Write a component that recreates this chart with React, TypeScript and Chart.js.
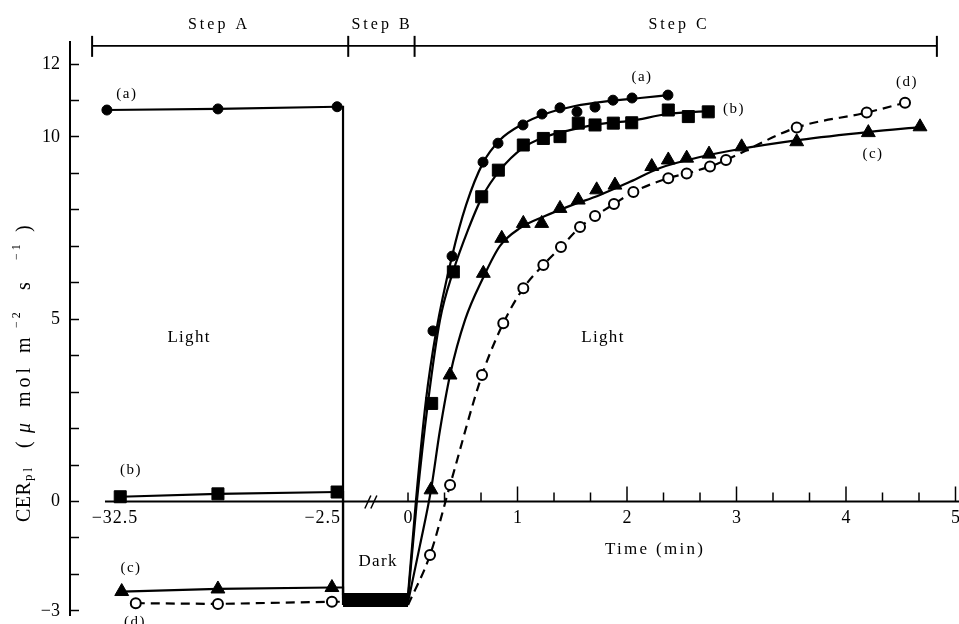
import React, { useEffect, useRef } from 'react';
import { Chart, registerables } from 'chart.js';

Chart.register(...registerables);

const FONT = '"Liberation Serif", "DejaVu Serif", "Times New Roman", serif';

// ---------- time axis with a break (Step A compressed, Step B dark compressed) ----------
const STEP_A_END = -2.5;
const STEP_A_SCALE = 0.0676; // axis units per minute during Step A
const DARK_SCALE = 0.2374; // axis units per minute during Step B
function toAxis(t: number): number {
  if (t >= 0) return t;
  if (t >= STEP_A_END) return t * DARK_SCALE;
  return STEP_A_END * DARK_SCALE + (t - STEP_A_END) * STEP_A_SCALE;
}
const X_MIN = -3.087;
const X_MAX = 5.032;
const Y_MIN = -3.114;
const Y_MAX = 12.606;

// ---------- ticks ----------
const yTickValues = [-3, -2, -1, 0, 1, 2, 3, 4, 5, 6, 7, 8, 9, 10, 11, 12];
const yLabelValues = [12, 10, 5, 0, -3];
const yLabels = ['12', '10', '5', '0', '\u22123'];
const xTickTimes = [0, 1, 2, 3, 4, 5];
const xTickLabels = ['0', '1', '2', '3', '4', '5'];
const xStepALabelTimes = [-32.5, -2.5];
const xStepALabels = ['\u221232.5', '\u22122.5'];
const xMinorTickTimes = [0, 1 / 3, 2 / 3, 4 / 3, 5 / 3, 7 / 3, 8 / 3, 10 / 3, 11 / 3, 13 / 3, 14 / 3];
const xMajorTickTimes = [1, 2, 3, 4, 5];

// ---------- series (a) filled circles ----------
const aATime = [-34.4, -19.4, -3.3];
const aAVal = [10.74, 10.77, 10.83];
const aDark = -2.57;
const aCTime = [0.228, 0.402, 0.685, 0.822, 1.05, 1.224, 1.388, 1.543, 1.708, 1.872, 2.046, 2.374];
const aCVal = [4.68, 6.73, 9.31, 9.83, 10.33, 10.63, 10.8, 10.69, 10.82, 11.01, 11.07, 11.15];
const aFitTime = [0, 0.073, 0.164, 0.256, 0.402, 0.53, 0.685, 0.84, 1.05, 1.251, 1.525, 1.845, 2.119, 2.374];
const aFitVal = [-2.57, 0.04, 2.78, 4.65, 6.73, 8.13, 9.29, 9.92, 10.36, 10.63, 10.85, 10.99, 11.07, 11.15];

// ---------- series (b) filled squares ----------
const bATime = [-32.6, -19.4, -3.3];
const bAVal = [0.13, 0.21, 0.26];
const bDark = -2.66;
const bCTime = [0.216, 0.414, 0.673, 0.825, 1.053, 1.236, 1.388, 1.555, 1.708, 1.875, 2.043, 2.377, 2.56, 2.742];
const bCVal = [2.69, 6.3, 8.36, 9.09, 9.78, 9.96, 10.01, 10.38, 10.33, 10.38, 10.39, 10.74, 10.56, 10.69];
const bFitTime = [0, 0.082, 0.183, 0.292, 0.411, 0.548, 0.676, 0.84, 1.05, 1.251, 1.479, 1.753, 2.027, 2.374, 2.74];
const bFitVal = [-2.66, 0.04, 2.73, 4.98, 6.3, 7.45, 8.35, 9.09, 9.7, 10.0, 10.19, 10.36, 10.44, 10.63, 10.71];

// ---------- series (c) filled triangles ----------
const cATime = [-32.4, -19.4, -4.0];
const cAVal = [-2.47, -2.4, -2.36];
const cDark = -2.76;
const cCTime = [0.21, 0.384, 0.688, 0.856, 1.053, 1.221, 1.388, 1.555, 1.723, 1.89, 2.226, 2.377, 2.545, 2.749, 3.047, 3.55, 4.204, 4.676];
const cCVal = [0.32, 3.47, 6.26, 7.22, 7.63, 7.63, 8.04, 8.27, 8.55, 8.68, 9.19, 9.37, 9.42, 9.53, 9.73, 9.87, 10.12, 10.28];
const cFitTime = [0, 0.11, 0.21, 0.292, 0.384, 0.521, 0.685, 0.84, 1.023, 1.251, 1.479, 1.753, 2.027, 2.301, 2.667, 3.032, 3.58, 4.219, 4.676];
const cFitVal = [-2.76, -1.19, 0.32, 1.96, 3.47, 4.98, 6.13, 7.01, 7.5, 7.83, 8.11, 8.41, 8.77, 9.15, 9.45, 9.67, 9.92, 10.14, 10.27];

// ---------- series (d) open circles, dashed ----------
const dATime = [-30.5, -19.4, -4.0];
const dAVal = [-2.79, -2.81, -2.75];
const dDark = -2.84;
const dCTime = [0.201, 0.384, 0.676, 0.87, 1.053, 1.236, 1.397, 1.571, 1.708, 1.881, 2.058, 2.377, 2.545, 2.758, 2.904, 3.55, 4.189, 4.539];
const dCVal = [-1.47, 0.45, 3.47, 4.89, 5.85, 6.49, 6.98, 7.53, 7.83, 8.16, 8.49, 8.87, 9.0, 9.19, 9.37, 10.26, 10.67, 10.94];

// ---------- annotations (time, value) ----------
const bracketTimes = [-36.4, -2.3, 0.06, 4.83];
const bracketVal = 12.5;
const stepLabels = ['Step A', 'Step B', 'Step C'];
const stepLabelTimes = [-19.26, -1.0, 2.475];
const stepLabelVal = 13.07;
const seriesLabels = ['(a)', '(b)', '(c)', '(d)', '(a)', '(b)', '(c)', '(d)'];
const seriesLabelTimes = [-31.7, -31.15, -31.15, -30.6, 2.137, 2.977, 4.247, 4.557];
const seriesLabelVals = [11.18, 0.86, -1.82, -3.31, 11.65, 10.77, 9.53, 11.51];
const phaseLabels = ['Light', 'Dark', 'Light'];
const phaseLabelTimes = [-23.3, -1.15, 1.781];
const phaseLabelVals = [4.51, -1.66, 4.51];
const xTitle = 'Time (min)';
const xTitleTime = 2.256;
const xTitleVal = -1.33;
const axisStartTime = -34.66;
const breakMarkTime = -1.43;

function pts(ts: number[], vs: number[]) {
  return ts.map((t, i) => ({ x: toAxis(t), y: vs[i] }));
}
function preLine(ts: number[], vs: number[], dark: number) {
  const last = vs[vs.length - 1];
  return [
    ...pts(ts, vs),
    { x: toAxis(STEP_A_END), y: last },
    { x: toAxis(STEP_A_END), y: dark },
    { x: toAxis(0), y: dark },
  ];
}

function txt(ctx: any, s: string, x: number, y: number, size: number, spacing: number, align = 'center', baseline = 'middle', italic = false) {
  ctx.save();
  ctx.font = `${italic ? 'italic ' : ''}${size}px ${FONT}`;
  ctx.letterSpacing = `${spacing}px`;
  ctx.fillStyle = '#000';
  ctx.textAlign = align;
  ctx.textBaseline = baseline;
  ctx.fillText(s, x, y);
  ctx.restore();
}

const overlay = {
  id: 'overlay',
  afterDraw(chart: any) {
    const { ctx } = chart;
    const xs = chart.scales.x;
    const ys = chart.scales.y;
    const X = (t: number) => xs.getPixelForValue(toAxis(t));
    const Y = (v: number) => ys.getPixelForValue(v);
    const y0 = Y(0);
    ctx.save();
    ctx.strokeStyle = '#000';
    ctx.lineCap = 'butt';

    // x axis line
    ctx.lineWidth = 2;
    ctx.beginPath();
    ctx.moveTo(X(axisStartTime), y0);
    ctx.lineTo(xs.right, y0);
    ctx.stroke();

    // break marks //
    const bx = X(breakMarkTime);
    ctx.lineWidth = 1.5;
    [-3, 3].forEach((o) => {
      ctx.beginPath();
      ctx.moveTo(bx + o - 3, y0 + 7);
      ctx.lineTo(bx + o + 3, y0 - 6);
      ctx.stroke();
    });

    // x tick marks (pointing up)
    ctx.lineWidth = 1.5;
    xMinorTickTimes.forEach((t) => {
      ctx.beginPath();
      ctx.moveTo(X(t), y0);
      ctx.lineTo(X(t), y0 - 9);
      ctx.stroke();
    });
    xMajorTickTimes.forEach((t) => {
      ctx.beginPath();
      ctx.moveTo(X(t), y0);
      ctx.lineTo(X(t), y0 - 15);
      ctx.stroke();
    });

    // Step A x labels
    txt(ctx, xStepALabels[0], X(xStepALabelTimes[0]) - 6, y0 + 17, 18, 1, 'center');
    txt(ctx, xStepALabels[1], X(xStepALabelTimes[1]) - 2, y0 + 17, 18, 1, 'right');

    // bracket
    const yb = Y(bracketVal);
    ctx.lineWidth = 1.6;
    ctx.beginPath();
    ctx.moveTo(X(bracketTimes[0]), yb);
    ctx.lineTo(X(bracketTimes[bracketTimes.length - 1]), yb);
    ctx.stroke();
    ctx.lineWidth = 2;
    bracketTimes.forEach((t) => {
      ctx.beginPath();
      ctx.moveTo(X(t), yb - 10);
      ctx.lineTo(X(t), yb + 11);
      ctx.stroke();
    });
    stepLabels.forEach((s, i) => txt(ctx, s, X(stepLabelTimes[i]), Y(stepLabelVal), 16, 3));

    // series / phase labels
    seriesLabels.forEach((s, i) => txt(ctx, s, X(seriesLabelTimes[i]), Y(seriesLabelVals[i]), 15, 1.5));
    phaseLabels.forEach((s, i) => txt(ctx, s, X(phaseLabelTimes[i]), Y(phaseLabelVals[i]), 17, 1.3));
    txt(ctx, xTitle, X(xTitleTime), Y(xTitleVal), 17, 2.3);

    // y axis title (rotated)
    ctx.save();
    ctx.translate(xs.left - 40, Y(3.55));
    ctx.rotate(-Math.PI / 2);
    const tokens: [string, number, number, number, boolean, number][] = [
      // text, start offset, size, baseline shift, italic, spacing
      ['CER', -150, 20, 0, false, 0.5],
      ['pl', -109, 13, 2, false, 3],
      ['(', -76, 20, 0, false, 0],
      ['\u03bc', -61, 20, 0, true, 0],
      ['mol', -35, 20, 0, false, 4],
      ['m', 19, 20, 0, false, 0],
      ['\u22122', 44, 12, -10, false, 3],
      ['s', 82, 20, 0, false, 0],
      ['\u22121', 112, 12, -10, false, 3],
      [')', 140, 20, 0, false, 0],
    ];
    tokens.forEach(([s, off, size, dy, it, sp]) => txt(ctx, s, off, dy, size, sp, 'left', 'alphabetic', it));
    ctx.restore();

    ctx.restore();
  },
};

function markerSet(data: any[], style: string, radius: number, fill: string, bw: number) {
  return {
    data,
    showLine: false,
    pointStyle: style,
    pointRadius: radius,
    pointBackgroundColor: fill,
    pointBorderColor: '#000',
    pointBorderWidth: bw,
    order: 0,
  };
}
const darkStart = toAxis(STEP_A_END);
function lineSet(data: any[], smooth: boolean, dashedBeforeDark = false, dashed = false) {
  return {
    data,
    showLine: true,
    pointRadius: 0,
    borderColor: '#000',
    borderWidth: 2.2,
    tension: 0,
    cubicInterpolationMode: smooth ? 'monotone' : 'default',
    borderDash: dashed ? [9, 6] : [],
    segment: smooth
      ? undefined
      : {
          borderDash: (c: any) => (dashedBeforeDark && c.p0.parsed.x < darkStart ? [9, 6] : []),
          borderWidth: (c: any) => (c.p0.parsed.x >= darkStart - 1e-9 && c.p1.parsed.x > c.p0.parsed.x + 1e-9 ? 4.2 : 2.2),
        },
    order: 1,
  };
}

export default function App() {
  const ref = useRef<HTMLCanvasElement | null>(null);
  useEffect(() => {
    if (!ref.current) return;
    const datasets: any[] = [
      markerSet([...pts(aATime, aAVal), ...pts(aCTime, aCVal)], 'circle', 5, '#000', 1),
      markerSet([...pts(bATime, bAVal), ...pts(bCTime, bCVal)], 'rect', 8.5, '#000', 1),
      markerSet([...pts(cATime, cAVal), ...pts(cCTime, cCVal)], 'triangle', 8, '#000', 1),
      markerSet([...pts(dATime, dAVal), ...pts(dCTime, dCVal)], 'circle', 5, '#fff', 2),
      lineSet(preLine(aATime, aAVal, aDark), false),
      lineSet(preLine(bATime, bAVal, bDark), false),
      lineSet(preLine(cATime, cAVal, cDark), false),
      lineSet(preLine(dATime, dAVal, dDark), false, true),
      lineSet(pts(aFitTime, aFitVal), true),
      lineSet(pts(bFitTime, bFitVal), true),
      lineSet(pts(cFitTime, cFitVal), true),
      lineSet([{ x: toAxis(0), y: dDark }, ...pts(dCTime, dCVal)], true, false, true),
    ];
    const chart = new Chart(ref.current, {
      type: 'scatter',
      data: { datasets },
      options: {
        animation: false,
        responsive: false,
        devicePixelRatio: 1,
        layout: { autoPadding: false, padding: { left: 0, right: 0, top: 42, bottom: 9 } },
        plugins: { legend: { display: false }, tooltip: { enabled: false }, title: { display: false } },
        scales: {
          x: {
            type: 'linear',
            min: X_MIN,
            max: X_MAX,
            position: { y: 0 },
            afterBuildTicks: (s: any) => {
              s.ticks = xTickTimes.map((t) => ({ value: toAxis(t) }));
            },
            afterFit: (s: any) => {
              s.paddingLeft = 0;
              s.paddingRight = 0;
            },
            grid: { display: false, drawTicks: false, drawOnChartArea: false },
            border: { display: false },
            ticks: {
              autoSkip: false,
              maxRotation: 0,
              padding: 6,
              color: '#000',
              font: { family: FONT, size: 18 },
              callback: (_v: any, i: number) => xTickLabels[i],
            },
          },
          y: {
            type: 'linear',
            min: Y_MIN,
            max: Y_MAX,
            afterBuildTicks: (s: any) => {
              s.ticks = yTickValues.map((v) => ({ value: v }));
            },
            afterFit: (s: any) => {
              s.width = 70;
              s.paddingTop = 0;
              s.paddingBottom = 0;
            },
            grid: { drawOnChartArea: false, drawTicks: true, tickLength: -9, tickColor: '#000', tickWidth: 1.5 },
            border: { display: true, color: '#000', width: 2 },
            ticks: {
              autoSkip: false,
              padding: 19,
              color: '#000',
              font: { family: FONT, size: 18 },
              callback: (v: any) => {
                const k = yLabelValues.indexOf(Math.round(Number(v)));
                return k >= 0 ? yLabels[k] : '';
              },
            },
          },
        },
      },
      plugins: [overlay],
    });
    return () => chart.destroy();
  }, []);
  return (
    <div style={{ position: 'fixed', left: 0, top: 0, width: 959, height: 624, background: '#fff' }}>
      <canvas ref={ref} width={959} height={624} style={{ display: 'block' }} />
    </div>
  );
}
